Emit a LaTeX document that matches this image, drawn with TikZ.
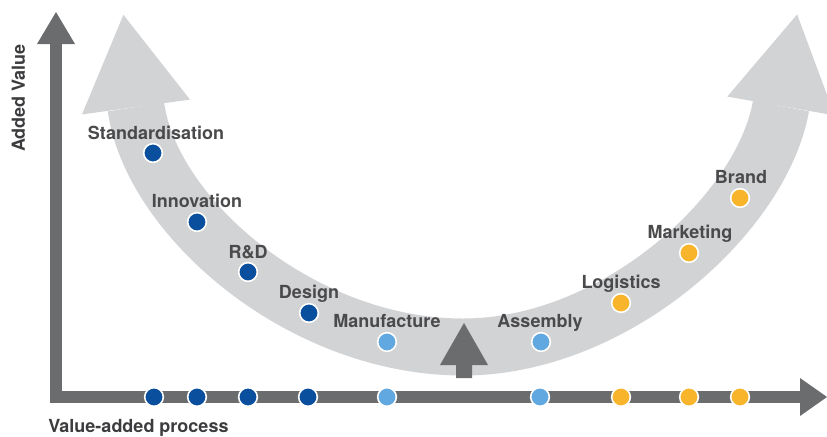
\documentclass[tikz,border=0pt]{standalone}
\usepackage{fontspec}
\setmainfont{TeX Gyre Heros}
\usetikzlibrary{calc}
\definecolor{axisgray}{HTML}{6B6C6E}
\definecolor{bandgray}{HTML}{D2D3D5}
\definecolor{txtgray}{HTML}{4A4A4C}
\definecolor{axtxt}{HTML}{3C3C3E}
\definecolor{dkblue}{HTML}{0A4F9E}
\definecolor{ltblue}{HTML}{62A8E0}
\definecolor{amber}{HTML}{F8B42A}
\begin{document}
\begin{tikzpicture}[x=0.75pt,y=-0.75pt,
  dotbase/.style={circle, inner sep=0pt, minimum size=14pt, draw=white, line width=1.2pt},
  dotdark/.style={dotbase, fill=dkblue},
  dotlight/.style={dotbase, fill=ltblue},
  dotamber/.style={dotbase, fill=amber},
  lbl/.style={font=\fontsize{13.5}{16}\selectfont\bfseries, text=txtgray, inner sep=0pt, anchor=base},
  axlbl/.style={font=\fontsize{13.5}{16}\selectfont\bfseries, text=axtxt, inner sep=0pt}
]
\useasboundingbox (0,0) rectangle (827,436);
\clip (0,0) rectangle (827,436);

% wide U arrow
\coordinate (bandL) at (136,107);
\coordinate (bandB) at (463,347);
\coordinate (bandR) at (781,106);
\draw[bandgray, line width=42.75pt]
  (bandL) .. controls (151,216) and (300,347) .. (bandB)
          .. controls (615,347) and (762,214) .. (bandR);
\fill[bandgray] (123.4,14.8) -- (190.0,99.6) -- (82.0,114.4) -- cycle;
\fill[bandgray] (797.1,14.4) -- (834.7,115.4) -- (727.3,96.6) -- cycle;

% axes
\coordinate (orig) at (56,397);
\coordinate (ytop) at (56,44);
\coordinate (xend) at (801,397);
\draw[axisgray, line width=9.4pt, line join=miter] (ytop) -- (orig) -- (xend);
\fill[axisgray] (37,44) -- (56,12) -- (75,44) -- cycle;
\fill[axisgray] (800,378) -- (827,397) -- (800,416) -- cycle;

% small up arrow
\fill[axisgray] (456,378) -- (456,365) -- (440,365) -- (464,323) -- (488,365)
  -- (472,365) -- (472,378) -- cycle;

% axis labels
\node[axlbl, rotate=90, anchor=center] (ylab) at (18.5,98) {Added Value};
\node[axlbl, anchor=base west] (xlab) at (48,432) {Value-added process};

% dots on x axis
\node[dotdark]  (a1) at (154,397) {};
\node[dotdark]  (a2) at (197,397) {};
\node[dotdark]  (a3) at (248,397) {};
\node[dotdark]  (a4) at (308,397) {};
\node[dotlight] (a5) at (387,397) {};
\node[dotlight] (a6) at (540,397) {};
\node[dotamber] (a7) at (621,397) {};
\node[dotamber] (a8) at (689,397) {};
\node[dotamber] (a9) at (740,397) {};

% dots on the curve
\node[dotdark]  (c1) at (153,153) {};
\node[dotdark]  (c2) at (197,222) {};
\node[dotdark]  (c3) at (248,272) {};
\node[dotdark]  (c4) at (309,313) {};
\node[dotlight] (c5) at (387,342) {};
\node[dotlight] (c6) at (541,342) {};
\node[dotamber] (c7) at (621,303) {};
\node[dotamber] (c8) at (689,253) {};
\node[dotamber] (c9) at (740,198) {};

% labels
\node[lbl] (l1) at ($(c1)+(3,-14)$) {Standardisation};
\node[lbl] (l2) at ($(c2)+(0,-15)$) {Innovation};
\node[lbl] (l3) at ($(c3)+(0,-14)$) {R\&D};
\node[lbl] (l4) at ($(c4)+(0,-15)$) {Design};
\node[lbl] (l5) at ($(c5)+(0,-15)$) {Manufacture};
\node[lbl] (l6) at ($(c6)+(-1,-15)$) {Assembly};
\node[lbl] (l7) at ($(c7)+(0,-15)$) {Logistics};
\node[lbl] (l8) at ($(c8)+(1,-15)$) {Marketing};
\node[lbl] (l9) at ($(c9)+(1,-15)$) {Brand};
\end{tikzpicture}
\end{document}
